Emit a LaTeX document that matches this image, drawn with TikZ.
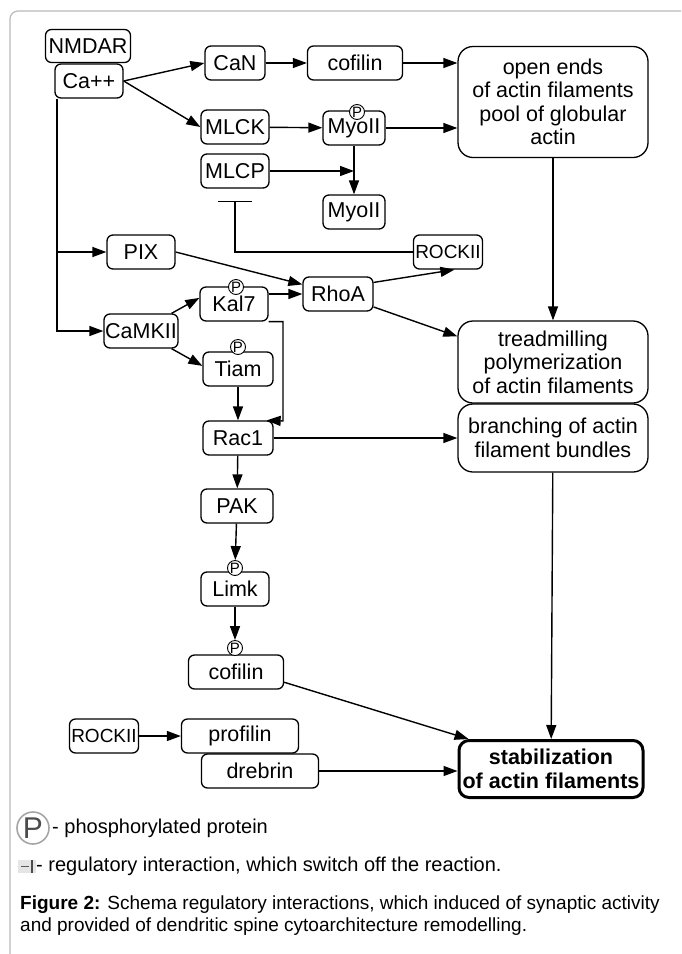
\documentclass[tikz,border=0pt]{standalone}
\usepackage{fontspec}
\setmainfont{Liberation Sans}
\usepackage{tikz}
\usetikzlibrary{arrows.meta, positioning}
\newcommand{\dfont}{\fontsize{21.5}{23.5}\selectfont}
\newcommand{\lfont}{\fontsize{19}{21.5}\selectfont}

\begin{document}
\begin{tikzpicture}[x=1pt, y=-1pt,
    box/.style={
      rectangle, draw, fill=white, rounded corners=6pt,
      line width=1.3pt, minimum width=68, minimum height=34,
      inner sep=1pt, font=\dfont, align=center
    },
    big/.style={box, rounded corners=15pt, minimum width=190},
    small/.style={box, font=\fontsize{19}{21}\selectfont},
    pmark/.style={circle, draw, fill=white, line width=0.9pt,
      minimum size=15, inner sep=0pt, font=\fontsize{15}{15}\selectfont},
    arr/.style={-{Triangle[length=14pt, width=10pt]}, line width=1.4pt},
    inh/.style={-{Bar[width=34pt]}, line width=1.4pt},
    frame/.style={draw=gray!55, line width=1.2pt, rounded corners=8pt},
    lgd/.style={anchor=west, font=\fontsize{20}{22}\selectfont, inner sep=0pt}
  ]

  \useasboundingbox (0,0) rectangle (681,954);
  \draw[frame] (681,11) -- (10,11) -- (10,954);

  % ── Calcium entry ─────────────────────────────────────────────
  \node[box, minimum width=85, minimum height=33] (nmdar) at (88,46) {NMDAR};
  \node[box] (ca) at (89,81) {Ca++};

  % ── Upper branch: CaN / MLCK / MLCP ───────────────────────────
  \node[box, minimum width=60]  (can)   at (235,63)  {CaN};
  \node[box, minimum width=95]  (cofa)  at (355,63)  {cofilin};
  \node[box]                    (mlck)  at (235,127) {MLCK};
  \node[box, minimum width=62]  (myop)  at (354,128) {MyoII};
  \node[box]                    (mlcp)  at (235,171) {MLCP};
  \node[box, minimum width=62]  (myo)   at (354,212) {MyoII};
  \node[small, minimum width=69] (rocka) at (448,252) {ROCKII};
  \node[big, minimum height=111] (open) at (553,102)
    {open ends\\of actin filaments\\pool of globular\\actin};

  % ── Middle: PIX / CaMKII / Rho GTPases ────────────────────────
  \node[box]                    (pix)   at (141,252) {PIX};
  \node[box, minimum width=70]  (rhoa)  at (338,294) {RhoA};
  \node[box]                    (kal7)  at (234,304) {Kal7};
  \node[box, minimum width=74]  (camk)  at (141,331) {CaMKII};
  \node[box, minimum width=70]  (tiam)  at (238,369) {Tiam};
  \node[box, minimum width=70]  (rac1)  at (238,438) {Rac1};
  \node[big, minimum height=82] (tread) at (553,362)
    {treadmilling\\polymerization\\of actin filaments};
  \node[big, minimum height=68] (branch) at (553,438)
    {branching of actin\\filament bundles};

  % ── Lower: PAK / Limk / cofilin ───────────────────────────────
  \node[box, minimum width=72]  (pak)   at (237,506) {PAK};
  \node[box]                    (limk)  at (235,589) {Limk};
  \node[box, minimum width=95]  (cofb)  at (236,672) {cofilin};
  \node[small, minimum width=69] (rockb) at (104,736) {ROCKII};
  \node[box, minimum width=117] (prof)  at (240,736) {profilin};
  \node[box, minimum width=117] (dreb)  at (260,771) {drebrin};
  \node[big, line width=3pt, inner sep=0pt, minimum width=184,
        minimum height=57, rounded corners=10pt, font=\dfont\bfseries]
        (stab) at (551,769) {stabilization\\of actin filaments};

  % ── Phosphorylation marks ─────────────────────────────────────
  \node[pmark] (pmyo)  at (357,112) {P};
  \node[pmark] (pkal)  at (236,287) {P};
  \node[pmark] (ptiam) at (238,347) {P};
  \node[pmark] (plimk) at (235,568) {P};
  \node[pmark] (pcof)  at (235,648) {P};

  % ── Connectors ────────────────────────────────────────────────
  \coordinate (cpix) at (57,252);
  \coordinate (ccam) at (57,331);
  \coordinate (mjoin) at (354,171);
  \coordinate (tcorner) at (235,252);
  \coordinate (tbar) at (235,201);
  \coordinate (kbend) at (283,421);

  \draw[arr] (ca.east) -- (can.west);
  \draw[arr] (ca.east) -- (mlck.west);
  \draw[arr] (can) -- (cofa);
  \draw[arr] (cofa) -- (cofa -| open.west);
  \draw[arr] (mlck) -- (myop);
  \draw[arr] (myop) -- (myop -| open.west);
  \draw[arr] (myop) -- (myo);
  \draw[arr] (mlcp.east) -- (mjoin);
  \draw[inh] (rocka.west) -- (tcorner) -- (tbar);

  \draw[arr] (ca.south -| cpix) -- (ccam) -- (camk.west);
  \draw[arr] (cpix) -- (pix.west);
  \draw[arr] (pix.east) -- (rhoa.165);
  \draw[arr] (kal7.east |- rhoa.center) -- (rhoa.west);
  \draw[arr] (camk.30) -- (kal7.170);
  \draw[arr] (camk.-30) -- (tiam.175);
  \draw[arr] (kal7.south east) -| (kbend) -- ([xshift=-7pt]rac1.north east);
  \draw[arr] (tiam) -- (rac1);
  \draw[arr] (rhoa.18) -- (rocka.-70);
  \draw[arr] (rhoa.-20) -- (tread.165);
  \draw[arr] (open) -- (tread);
  \draw[arr] (rac1) -- (branch);

  \draw[arr] (rac1) -- (pak);
  \draw[arr] (pak) -- (plimk);
  \draw[arr] (limk) -- (pcof);
  \draw[arr] (branch) -- (stab);
  \draw[arr] (cofb.-12) -- (stab.160);
  \draw[arr] (rockb) -- (prof);
  \draw[arr] (dreb) -- (dreb -| stab.west);

  % ── Legend and caption ────────────────────────────────────────
  \node[circle, draw=gray!70, line width=1.6pt, minimum size=32, inner sep=0pt,
        text=black!70, font=\fontsize{30}{30}\selectfont] (pbig) at (33,828) {P};
  \node[lgd] (plbl) at (52,828) {- phosphorylated protein};
  \fill[gray!20] (18,860) rectangle (36,873);
  \draw[line width=1.6pt, gray!70!black] (21,866.5) -- (29,866.5);
  \draw[line width=1.2pt, gray!60!black] (32,860) -- (32,873);
  \node[lgd] (ilbl) at (36,866) {- regulatory interaction, which switch off the reaction.};
  \node[anchor=north west, font=\lfont, align=left, inner sep=0pt] (cap) at (20,896)
    {\textbf{Figure 2:} Schema regulatory interactions, which induced of synaptic activity\\
     and provided of dendritic spine cytoarchitecture remodelling.};

\end{tikzpicture}
\end{document}
